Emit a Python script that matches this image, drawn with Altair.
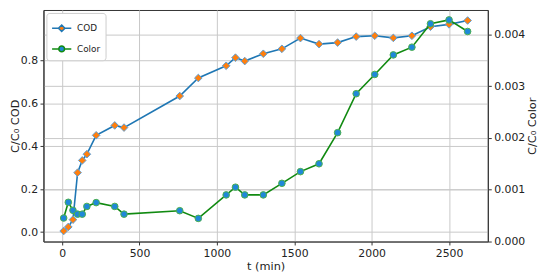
import altair as alt
import pandas as pd

# ---- data ----
t_min = [10, 40, 70, 100, 130, 160, 220, 340, 400, 760, 880, 1060, 1120, 1180,
         1300, 1420, 1540, 1660, 1780, 1900, 2020, 2140, 2260, 2380, 2500, 2620]
cod = [0.005, 0.024, 0.058, 0.277, 0.334, 0.363, 0.451, 0.497, 0.487, 0.634,
       0.718, 0.775, 0.813, 0.797, 0.831, 0.854, 0.904, 0.876, 0.883, 0.911,
       0.915, 0.905, 0.915, 0.957, 0.968, 0.986]
color = [0.000454, 0.000758, 0.000603, 0.000529, 0.000529, 0.000678, 0.000752,
         0.000678, 0.000529, 0.000596, 0.000447, 0.000901, 0.001050, 0.000901,
         0.000901, 0.001125, 0.001351, 0.001503, 0.002104, 0.002857, 0.003229,
         0.003607, 0.003756, 0.004209, 0.004283, 0.004060]
series_names = ["COD", "Color"]
x_ticks = [0, 500, 1000, 1500, 2000, 2500]
left_ticks = [0.0, 0.2, 0.4, 0.6, 0.8]
right_ticks = [0.0, 0.001, 0.002, 0.003, 0.004]

cod_df = pd.DataFrame({"t": t_min, "v": cod, "series": "COD"})
col_df = pd.DataFrame({"t": t_min, "v": color, "series": "Color"})

FONT = "DejaVu Sans"
BLUE = "#1f77b4"
ORANGE = "#ff7f0e"
GREEN = "#118a11"

x_enc = alt.X("t:Q", scale=alt.Scale(domain=[-120.5, 2750.5], nice=False, zero=False),
              axis=alt.Axis(title="t (min)", values=x_ticks, format="d", grid=True,
                            titlePadding=2))

left_y = alt.Y("v:Q", scale=alt.Scale(domain=[-0.044, 1.035], nice=False, zero=False),
               axis=alt.Axis(title="C/C₀ COD", values=left_ticks, format=".1f",
                             orient="left", grid=True, titlePadding=0))
right_y = alt.Y("v:Q", scale=alt.Scale(domain=[0, 0.004475], nice=False, zero=False),
                axis=alt.Axis(title="C/C₀ Color", values=right_ticks, format=".3f",
                              orient="right", grid=True, titleAngle=270,
                              titleBaseline="top", titlePadding=2))

path_cod = "M-1,0L-0.34,0M0.34,0L1,0M0,-0.34L0.34,0L0,0.34L-0.34,0Z"
path_col = ("M-1,0L-0.3,0M0.3,0L1,0M0.3,0A0.3,0.3,0,1,1,-0.3,0"
            "A0.3,0.3,0,1,1,0.3,0Z")

base_cod = alt.Chart(cod_df).encode(x=x_enc, y=left_y)
cod_line = base_cod.mark_line(color=BLUE, strokeWidth=1.6)
cod_pts = base_cod.mark_point(shape="diamond", filled=True, fill=ORANGE,
                              stroke="#5c9fd8", strokeWidth=1, size=60, opacity=1)
legend_layer = base_cod.mark_point(filled=True, opacity=0).encode(
    shape=alt.Shape("series:N", scale=alt.Scale(domain=series_names, range=[path_cod, path_col]),
                    legend=alt.Legend(title=None, orient="top-left", offset=3,
                                      symbolSize=380, symbolStrokeWidth=1.5,
                                      symbolOpacity=1, labelFontSize=9,
                                      labelFont=FONT, labelColor="#222",
                                      padding=5, rowPadding=4, labelOffset=5,
                                      strokeColor="#cccccc", fillColor="white",
                                      cornerRadius=3)),
    fill=alt.Fill("series:N", scale=alt.Scale(domain=series_names, range=[ORANGE, "#1f88d8"])),
    stroke=alt.Stroke("series:N", scale=alt.Scale(domain=series_names, range=[BLUE, GREEN])),
)
cod_layer = alt.layer(cod_line, cod_pts, legend_layer)

base_col = alt.Chart(col_df).encode(x=x_enc, y=right_y)
col_line = base_col.mark_line(color=GREEN, strokeWidth=1.6)
col_pts = base_col.mark_point(shape="circle", filled=True, fill="#1f88d8",
                              stroke="#4cb04c", strokeWidth=1, size=45, opacity=1)
col_layer = alt.layer(col_line, col_pts)

chart = alt.layer(cod_layer, col_layer).resolve_scale(
    y="independent"
).properties(
    width=451, height=235,
    autosize=alt.AutoSizeParams(type="none"),
    padding={"left": 36, "top": 0, "right": 55, "bottom": 35},
).configure_view(
    stroke="#333333", strokeWidth=1
).configure_axis(
    labelFont=FONT, titleFont=FONT, labelFontSize=11, titleFontSize=11.5,
    titleFontWeight="normal", labelColor="#222", titleColor="#222",
    domainColor="#333333", tickColor="#333333", tickSize=3.5, labelPadding=2.5,
    gridColor="#c8c8c8", gridWidth=1, labelFlush=False, labelOverlap=False,
)

chart.save("out.html", embed_options={"renderer": "svg", "actions": False})
